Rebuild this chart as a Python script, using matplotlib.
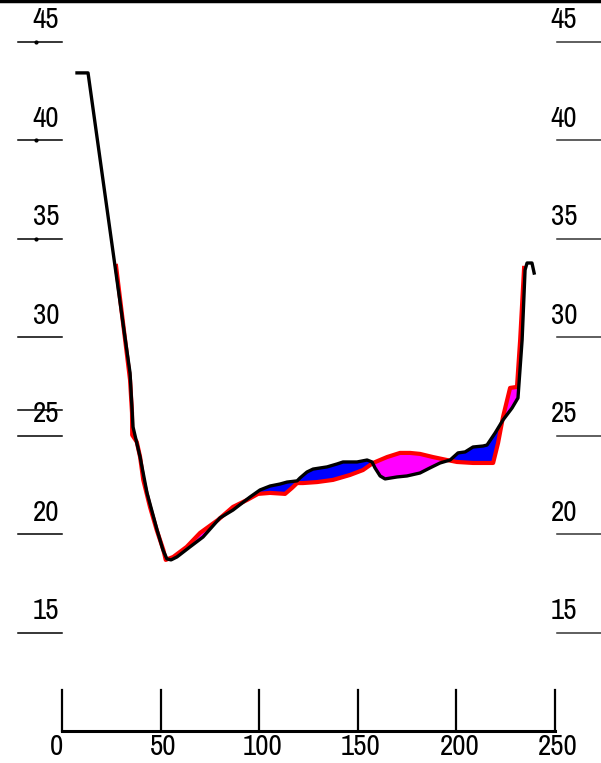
import numpy as np
import matplotlib
matplotlib.use("Agg")
import matplotlib.pyplot as plt
from matplotlib import font_manager
from matplotlib.font_manager import FontProperties

# ---- data ----
ground_x = [7.6, 13.2, 31.4, 34.5, 36.0, 39.6, 43.1, 48.2, 51.2, 53.2, 55.3, 58.3, 64.9, 71.5,
            80.1, 86.7, 95.3, 100.4, 105.5, 110.5, 114.1, 119.2, 120.7, 124.2, 127.3, 134.4,
            139.5, 142.5, 149.6, 154.7, 157.2, 158.7, 161.3, 163.8, 169.9, 174.9, 181.5, 186.6,
            191.7, 196.8, 200.8, 204.4, 208.4, 213.5, 215.5, 219.6, 223.6, 228.2, 231.2, 233.3,
            234.8, 235.8, 238.3, 239.4]
ground_y = [43.43, 43.43, 30.38, 28.20, 25.46, 23.93, 22.11, 20.23, 19.21, 18.76, 18.71, 18.86,
            19.37, 19.87, 20.84, 21.24, 21.90, 22.26, 22.46, 22.56, 22.66, 22.72, 22.87, 23.17,
            23.32, 23.43, 23.58, 23.68, 23.68, 23.78, 23.68, 23.38, 22.97, 22.82, 22.92, 22.97,
            23.12, 23.38, 23.63, 23.78, 24.14, 24.19, 24.44, 24.49, 24.54, 25.15, 25.81, 26.42,
            26.93, 29.87, 33.43, 33.78, 33.78, 33.27]

design_x = [27.4, 34.5, 35.5, 35.6, 37.9, 39.6, 41.2, 44.6, 48.0, 51.4, 52.6, 56.4, 63.2, 70.0,
            79.1, 86.7, 93.8, 99.4, 105.5, 113.1, 116.6, 119.2, 122.2, 129.3, 137.4, 146.0,
            152.6, 157.7, 164.8, 171.4, 176.5, 181.5, 188.1, 195.2, 200.3, 208.4, 218.6, 221.1,
            223.6, 227.2, 230.7, 232.3, 234.3]
design_y = [33.63, 27.84, 26.17, 25.05, 24.70, 23.93, 22.77, 21.40, 20.23, 19.21, 18.71, 18.86,
            19.37, 20.08, 20.74, 21.40, 21.75, 22.06, 22.11, 22.06, 22.36, 22.61, 22.61, 22.66,
            22.77, 23.02, 23.27, 23.63, 23.93, 24.14, 24.14, 24.09, 23.93, 23.78, 23.68, 23.63,
            23.63, 24.64, 25.96, 27.44, 27.49, 29.87, 33.53]

y_levels = [45, 40, 35, 30, 25, 20, 15]
y_labels = ["45", "40", "35", "30", "25", "20", "15"]
x_ticks = [0, 50, 100, 150, 200, 250]
x_labels = ["0", "50", "100", "150", "200", "250"]
water_level = 26.32

# ---- font: prefer a narrow / condensed face ----
def pick_font():
    paths = [f.fname for f in font_manager.fontManager.ttflist]
    def ok(p):
        q = p.lower()
        return not any(s in q for s in ("bold", "italic", "oblique", "light", "thin", "black", "semi", "extra", "medium", "mono", "serif"))
    for key in ("narrow", "condensed"):
        c = sorted(p for p in paths if key in p.lower() and ok(p))
        if c:
            for pref in ("liberation", "roboto", "opensans", "open", "noto", "dejavu"):
                for p in c:
                    if pref in p.lower().replace(" ", "").replace("_", ""):
                        return FontProperties(fname=p)
            return FontProperties(fname=c[0])
    return FontProperties(family="Liberation Sans")

fp = pick_font()
fs = 21
fp.set_size(fs)

fig = plt.figure(figsize=(6.01, 7.63), dpi=100)
ax = fig.add_axes([0, 0, 1, 1])
ax.set_xlim(-31.44, 273.3)
ax.set_ylim(8.40, 47.13)
ax.axis("off")

# fills
gx = np.array(ground_x); gy = np.array(ground_y)
dx = np.array(design_x); dy = np.array(design_y)
lo, hi = max(gx.min(), dx.min()), min(gx.max(), dx.max())
xs = np.unique(np.concatenate([gx, dx]))
xs = xs[(xs >= lo) & (xs <= hi)]
g_i = np.interp(xs, gx, gy)
d_i = np.interp(xs, dx, dy)
ax.fill_between(xs, g_i, d_i, where=d_i >= g_i, interpolate=True, color="#ff00ff", lw=0, zorder=1)
ax.fill_between(xs, g_i, d_i, where=g_i >= d_i, interpolate=True, color="#0000ff", lw=0, zorder=1)

ax.plot(dx, dy, color="#ff0000", lw=3.0, zorder=2, solid_joinstyle="round")
ax.plot(gx, gy, color="black", lw=2.4, zorder=3, solid_joinstyle="round")

# left / right level lines and labels
for v, lab in zip(y_levels, y_labels):
    ax.plot([-22.3, 0], [v, v], color="black", lw=1.1)
    ax.plot([251.0, 273.3], [v, v], color="#333333", lw=1.1)
    ax.text(-8.1, v + 1.12, lab, ha="center", va="center", fontproperties=fp)
    ax.text(254.6, v + 1.12, lab, ha="center", va="center", fontproperties=fp)
for v in y_levels[:3]:
    ax.plot([-13.2], [v], marker="o", ms=2, color="black")
ax.plot([-22.3, 0], [water_level, water_level], color="black", lw=1.1)

# bottom axis
ax.plot([x_ticks[0], x_ticks[-1]], [10.03, 10.03], color="black", lw=2.2)
for t, lab in zip(x_ticks, x_labels):
    ax.plot([t, t], [10.03, 12.1], color="black", lw=1.6)
    off = -3.0 if t == 0 else 1.5
    ax.text(t + off, 9.22, lab, ha="center", va="center", fontproperties=fp)

# top border
ax.plot([-31.44, 273.3], [47.07, 47.07], color="black", lw=2.5, clip_on=False)

fig.savefig("out.png", dpi=100)
